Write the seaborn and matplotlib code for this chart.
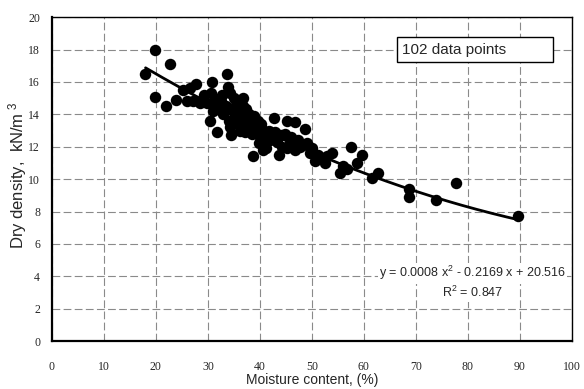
import numpy as np
import pandas as pd
import matplotlib
matplotlib.use("Agg")
import matplotlib.pyplot as plt
from matplotlib.patches import Rectangle
import seaborn as sns

# ---- data ----
moisture = [17.9, 19.8, 19.8, 21.9, 22.7, 23.8, 25.2, 26.5, 27.8, 27.1,
            28.5, 29.8, 30.4, 30.7, 31.7, 31.3, 30.5, 32.0, 32.5, 33.0,
            33.6, 33.8, 34.2, 33.5, 34.0, 34.2, 34.8, 35.2, 35.5, 36.0,
            36.2, 36.7, 36.7, 37.4, 37.0, 37.6, 38.0, 38.2, 38.7, 38.5,
            39.0, 39.6, 39.3, 40.0, 40.5, 41.0, 41.5, 42.0, 42.7, 42.5,
            43.2, 43.7, 44.0, 44.8, 45.2, 45.8, 46.7, 46.7, 47.3, 47.7,
            48.7, 46.0, 49.6, 50.0, 50.6, 51.2, 51.9, 52.5, 53.0, 53.8,
            55.4, 56.0, 56.7, 57.6, 58.6, 59.6, 61.5, 62.7, 68.7, 68.7,
            73.8, 77.8, 89.6, 31.0, 32.8, 35.0, 35.8, 37.2, 38.8, 39.8,
            40.2, 41.2, 41.8, 43.0, 44.3, 45.3, 29.2, 26.0, 34.5, 36.4,
            49.0, 40.6]
dry_density = [16.5, 18.0, 15.1, 14.5, 17.1, 14.9, 15.5, 15.6, 15.9, 14.8,
               14.7, 14.7, 13.6, 16.0, 12.9, 14.9, 15.3, 14.3, 14.8, 14.0,
               16.5, 15.7, 15.3, 14.5, 13.6, 13.2, 14.2, 13.9, 14.6, 13.4,
               13.0, 15.0, 14.5, 14.3, 13.8, 13.5, 14.0, 13.2, 11.4, 12.8,
               13.6, 13.6, 12.9, 12.6, 13.1, 12.5, 12.8, 12.4, 13.8, 12.6,
               12.3, 11.5, 12.7, 12.8, 13.6, 12.2, 13.5, 11.8, 12.4, 12.0,
               13.1, 12.6, 11.6, 11.9, 11.1, 11.5, 11.3, 11.0, 11.4, 11.6,
               10.4, 10.8, 10.6, 12.0, 11.0, 11.5, 10.1, 10.4, 9.4, 8.9,
               8.7, 9.75, 7.7, 14.2, 15.2, 15.0, 13.8, 12.9, 13.9, 12.2,
               13.4, 11.9, 13.0, 12.9, 12.0, 11.9, 15.2, 14.8, 12.7, 14.0,
               12.2, 11.8]
fit_coeffs = [0.0008, -0.2169, 20.516]   # y = a x^2 + b x + c (from chart)
fit_range = [18, 90]
x_ticks = [0, 10, 20, 30, 40, 50, 60, 70, 80, 90, 100]
y_ticks = [0, 2, 4, 6, 8, 10, 12, 14, 16, 18, 20]

df = pd.DataFrame({"moisture": moisture, "density": dry_density})
xf = np.linspace(fit_range[0], fit_range[1], 200)
fit_df = pd.DataFrame({"x": xf, "y": np.polyval(fit_coeffs, xf)})

sns.set_style("white")
plt.rcParams["mathtext.fontset"] = "custom"
plt.rcParams["mathtext.rm"] = "Liberation Sans"
plt.rcParams["mathtext.it"] = "Liberation Sans"
plt.rcParams["mathtext.default"] = "regular"

fig = plt.figure(figsize=(5.84, 3.89), dpi=100)
ax = fig.add_axes([0.089, 0.123, 0.890, 0.833])

sns.scatterplot(data=df, x="moisture", y="density", ax=ax, s=68,
                color="black", edgecolor="black", linewidth=0, zorder=3)
sns.lineplot(data=fit_df, x="x", y="y", ax=ax, color="black",
             linewidth=2.0, zorder=4)

ax.set_xlim(0, 100)
ax.set_ylim(0, 20)
ax.set_xticks(x_ticks)
ax.set_yticks(y_ticks)
ax.set_xticklabels([str(t) for t in x_ticks], family="Liberation Serif", fontsize=8.5)
ax.set_yticklabels([str(t) for t in y_ticks], family="Liberation Serif", fontsize=8.5)
ax.tick_params(direction="inout", length=5, width=0.8, color="#555555")
ax.tick_params(axis="x", pad=12)
ax.tick_params(axis="y", pad=6)

ax.grid(True, color="#8a8a8a", linestyle=(0, (7, 3)), linewidth=0.8)
ax.set_axisbelow(True)

for side in ["left", "bottom"]:
    ax.spines[side].set_linewidth(1.6)
    ax.spines[side].set_color("black")
for side in ["top", "right"]:
    ax.spines[side].set_linewidth(1.0)
    ax.spines[side].set_color("black")
    ax.spines[side].set_visible(True)

ax.set_xlabel("Moisture content, (%)", family="Liberation Sans", fontsize=10, labelpad=0)
ax.set_ylabel("Dry density,  kN/m$^{\\,\\,3}$", family="Liberation Sans", fontsize=12)
ax.yaxis.set_label_coords(-0.044, 0.51)

# annotation box
ax.add_patch(Rectangle((66.3, 17.2), 30.0, 1.55, facecolor="white",
                       edgecolor="black", linewidth=1.0, zorder=5))
ax.text(67.4, 17.95, "102 data points", family="Liberation Sans", fontsize=11,
        va="center", ha="left", zorder=6)

ax.text(80.9, 4.2, "y = 0.0008 x$^2$ - 0.2169 x + 20.516", family="Liberation Sans",
        fontsize=9.0, ha="center", va="center", zorder=2.4,
        bbox=dict(facecolor="white", edgecolor="none", pad=1))
ax.text(80.9, 3.0, "R$^2$ = 0.847", family="Liberation Sans", fontsize=9.0,
        ha="center", va="center", zorder=2.4,
        bbox=dict(facecolor="white", edgecolor="none", pad=1))

fig.savefig("out.png", dpi=100)
